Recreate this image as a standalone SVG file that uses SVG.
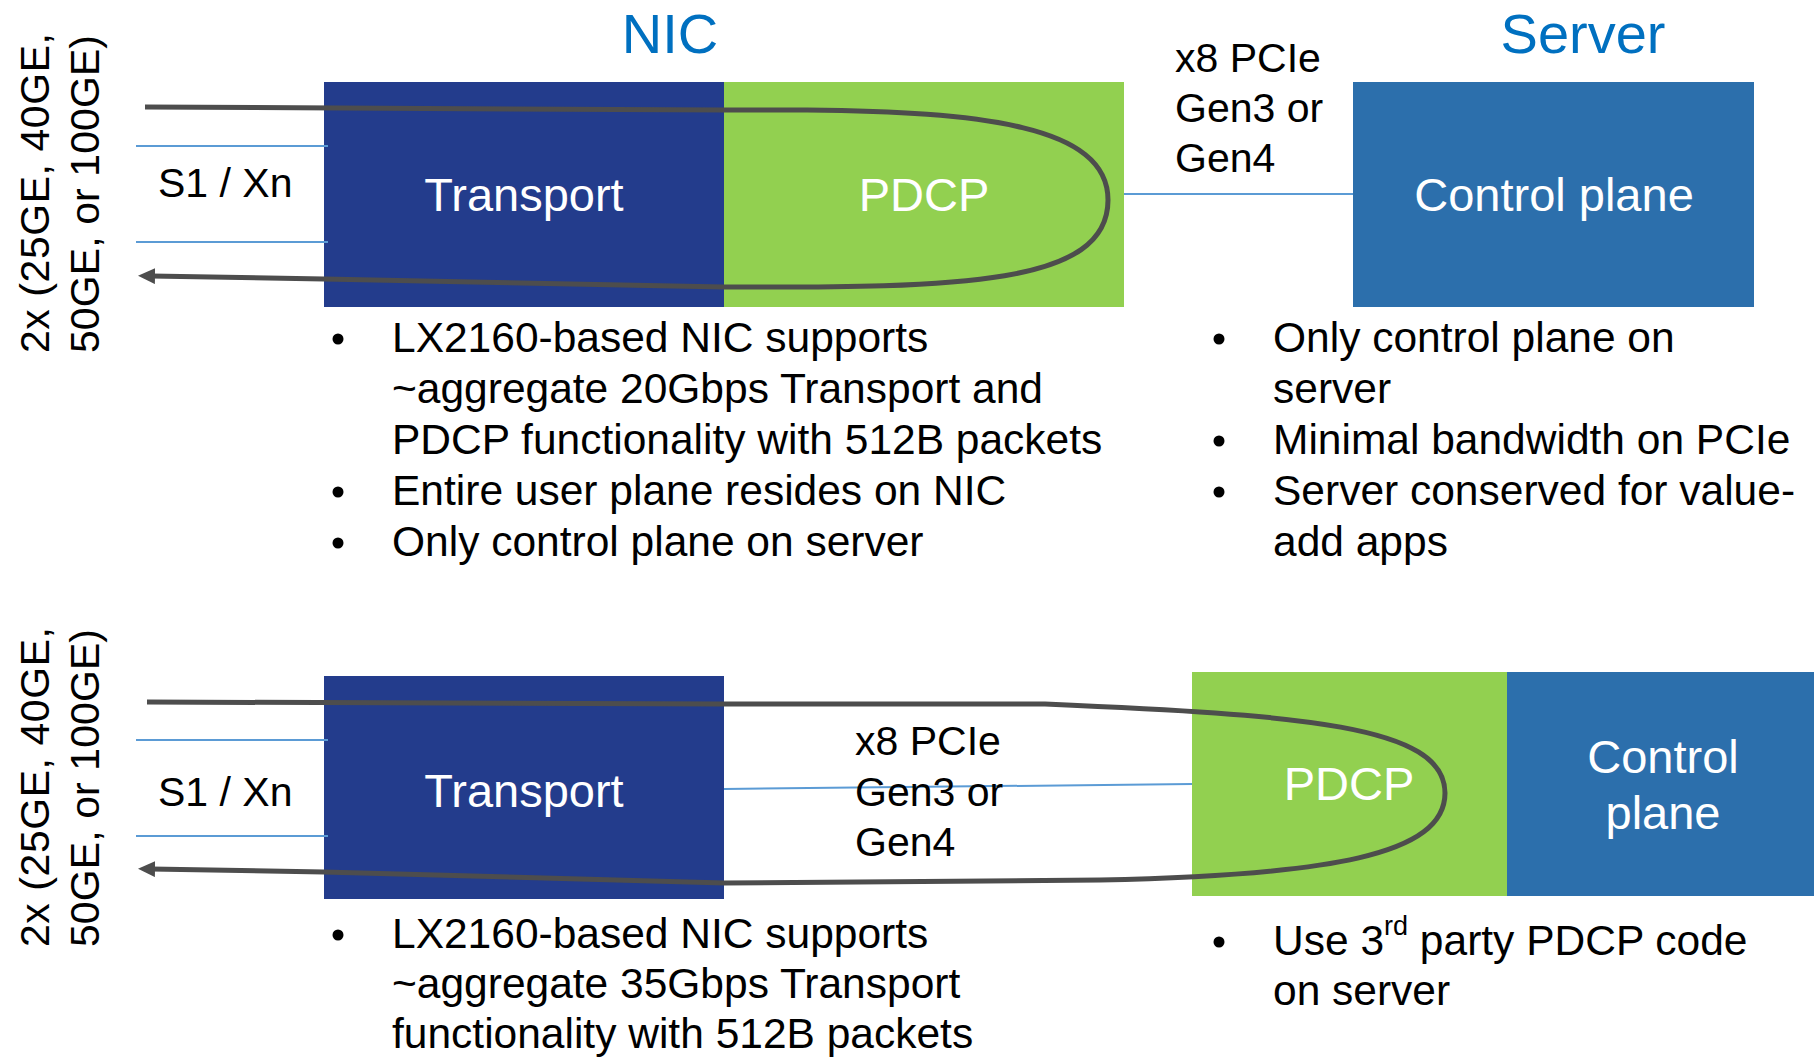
<svg xmlns="http://www.w3.org/2000/svg" width="1814" height="1057" viewBox="0 0 1814 1057">
  <style>
    text { font-family: "Liberation Sans", Arial, sans-serif; }
    .title { font-size: 56px; fill: #0070C0; text-anchor: middle; }
    .box-label { font-size: 47px; fill: #FFFFFF; text-anchor: middle; }
    .label { font-size: 41px; fill: #000000; }
    .body { font-size: 42.5px; fill: #000000; }
    .transport { fill: #233C8C; }
    .pdcp { fill: #92D050; }
    .control { fill: #2C6FAC; }
    .link { stroke: #5B9BD5; stroke-width: 2; fill: none; }
    .flow { stroke: #4D4D4D; stroke-width: 5; fill: none; stroke-linejoin: round; }
    .dot { fill: #000000; }
  </style>
  <defs>
    <marker id="arrow" markerUnits="userSpaceOnUse" markerWidth="17" markerHeight="16" refX="4" refY="8" orient="auto">
      <path d="M0,0 L17,8 L0,16 z" fill="#4D4D4D"/>
    </marker>
  </defs>

  <rect width="1814" height="1057" fill="#FFFFFF"/>

  <!-- Section titles -->
  <text class="title" x="670" y="53">NIC</text>
  <text class="title" x="1583" y="53">Server</text>

  <!-- Ethernet port labels (vertical) -->
  <g id="ports-1">
    <text class="label" transform="translate(49,353) rotate(-90)" textLength="320" lengthAdjust="spacing">2x (25GE, 40GE,</text>
    <text class="label" transform="translate(99,353) rotate(-90)" textLength="318" lengthAdjust="spacing">50GE, or 100GE)</text>
    <text class="label" x="158" y="197">S1 / Xn</text>
  </g>
  <g id="ports-2">
    <text class="label" transform="translate(49,947) rotate(-90)" textLength="320" lengthAdjust="spacing">2x (25GE, 40GE,</text>
    <text class="label" transform="translate(99,947) rotate(-90)" textLength="318" lengthAdjust="spacing">50GE, or 100GE)</text>
    <text class="label" x="158" y="806">S1 / Xn</text>
  </g>

  <!-- Top configuration: Transport + PDCP on NIC -->
  <g id="transport-1">
    <rect class="transport" x="324" y="82" width="400" height="225"/>
    <text class="box-label" x="524" y="211">Transport</text>
  </g>
  <g id="pdcp-1">
    <rect class="pdcp" x="724" y="82" width="400" height="225"/>
    <text class="box-label" x="924" y="211">PDCP</text>
  </g>
  <g id="control-1">
    <rect class="control" x="1353" y="82" width="401" height="225"/>
    <text class="box-label" x="1554" y="211">Control plane</text>
  </g>

  <!-- Bottom configuration: Transport on NIC, PDCP on server -->
  <g id="transport-2">
    <rect class="transport" x="324" y="676" width="400" height="223"/>
    <text class="box-label" x="524" y="807">Transport</text>
  </g>
  <g id="pdcp-2">
    <rect class="pdcp" x="1192" y="672" width="315" height="224"/>
    <text class="box-label" x="1349" y="800">PDCP</text>
  </g>
  <g id="control-2">
    <rect class="control" x="1507" y="672" width="320" height="224"/>
    <text class="box-label" x="1663" y="773">Control</text>
    <text class="box-label" x="1663" y="829">plane</text>
  </g>

  <!-- Connectors -->
  <g id="connectors">
    <line class="link" x1="136" y1="146" x2="328" y2="146"/>
    <line class="link" x1="136" y1="242" x2="328" y2="242"/>
    <line class="link" x1="1124" y1="194" x2="1353" y2="194"/>
    <line class="link" x1="136" y1="740" x2="328" y2="740"/>
    <line class="link" x1="136" y1="836" x2="328" y2="836"/>
    <line class="link" x1="724" y1="789" x2="1192" y2="784"/>

    <path class="flow" marker-end="url(#arrow)"
          d="M145,107 L724,110 L807,110 C980,112 1108,125 1108,200 C1108,285 960,288 724,287 L324,279 L151,276"/>
    <path class="flow" marker-end="url(#arrow)"
          d="M147,702 L724,704 L1045,704 C1300,715 1445,725 1445,793 C1445,855 1330,875 1100,880 L724,883 L324,872 L151,869"/>
  </g>

  <!-- PCIe link labels -->
  <g id="pcie-1">
    <text class="label" x="1175" y="72" font-size="42">x8 PCIe</text>
    <text class="label" x="1175" y="122" font-size="42">Gen3 or</text>
    <text class="label" x="1175" y="172" font-size="42">Gen4</text>
  </g>
  <g id="pcie-2">
    <text class="label" x="855" y="755" font-size="42">x8 PCIe</text>
    <text class="label" x="855" y="806" font-size="42">Gen3 or</text>
    <text class="label" x="855" y="856" font-size="42">Gen4</text>
  </g>

  <!-- Notes, top configuration -->
  <g id="notes-nic-1">
    <circle class="dot" cx="338" cy="339" r="5.5"/>
    <circle class="dot" cx="338" cy="492" r="5.5"/>
    <circle class="dot" cx="338" cy="543" r="5.5"/>
    <text class="body" x="392" y="352">LX2160-based NIC supports</text>
    <text class="body" x="392" y="403">~aggregate 20Gbps Transport and</text>
    <text class="body" x="392" y="454">PDCP functionality with 512B packets</text>
    <text class="body" x="392" y="505">Entire user plane resides on NIC</text>
    <text class="body" x="392" y="556">Only control plane on server</text>
  </g>
  <g id="notes-server-1">
    <circle class="dot" cx="1219" cy="339" r="5.5"/>
    <circle class="dot" cx="1219" cy="441" r="5.5"/>
    <circle class="dot" cx="1219" cy="492" r="5.5"/>
    <text class="body" x="1273" y="352">Only control plane on</text>
    <text class="body" x="1273" y="403">server</text>
    <text class="body" x="1273" y="454">Minimal bandwidth on PCIe</text>
    <text class="body" x="1273" y="505">Server conserved for value-</text>
    <text class="body" x="1273" y="556">add apps</text>
  </g>

  <!-- Notes, bottom configuration -->
  <g id="notes-nic-2">
    <circle class="dot" cx="338" cy="935" r="5.5"/>
    <text class="body" x="392" y="948">LX2160-based NIC supports</text>
    <text class="body" x="392" y="998">~aggregate 35Gbps Transport</text>
    <text class="body" x="392" y="1048">functionality with 512B packets</text>
  </g>
  <g id="notes-server-2">
    <circle class="dot" cx="1219" cy="942" r="5.5"/>
    <text class="body" x="1273" y="955">Use 3<tspan font-size="27" dy="-20">rd</tspan><tspan dy="20"> party PDCP code</tspan></text>
    <text class="body" x="1273" y="1005">on server</text>
  </g>
</svg>
